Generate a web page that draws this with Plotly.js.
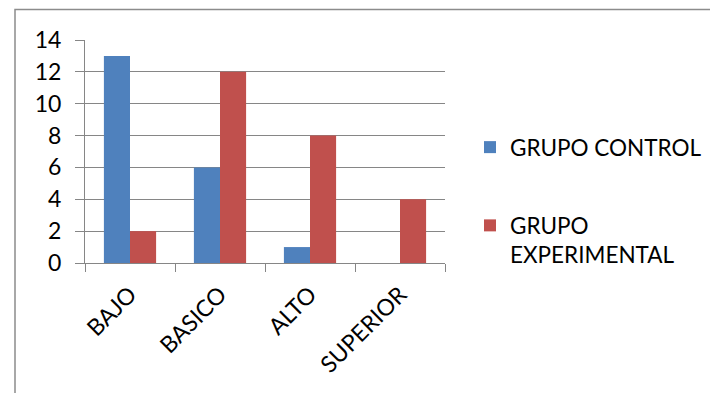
<!DOCTYPE html>
<html>
<head>
<meta charset="utf-8">
<script src="https://cdn.plot.ly/plotly-3.0.1.min.js"></script>
<style>
  html, body { margin: 0; padding: 0; background: #fff; }
  #chart { width: 710px; height: 393px; }
</style>
</head>
<body>
<div id="chart"></div>
<script>
// Performance levels and counts per group
const categories = ['BAJO', 'BASICO', 'ALTO', 'SUPERIOR'];
const grupoControl = [13, 6, 1, 0];
const grupoExperimental = [2, 12, 8, 4];
const seriesNames = ['GRUPO CONTROL', 'GRUPO<br>EXPERIMENTAL'];
const yTicks = [0, 2, 4, 6, 8, 10, 12, 14];

const FONT = 'Lato, "Open Sans", sans-serif';
const GRID = '#868686';

const traces = [
  {
    type: 'bar', x: categories, y: grupoControl, name: seriesNames[0],
    marker: { color: '#4F81BD' }, legendgroup: 'a'
  },
  {
    type: 'bar', x: categories, y: grupoExperimental, name: seriesNames[1],
    marker: { color: '#C0504D' }, legendgroup: 'b'
  }
];

const layout = {
  width: 710, height: 393,
  margin: { l: 85, r: 265, t: 40, b: 130 },
  paper_bgcolor: '#fff', plot_bgcolor: '#fff',
  font: { family: FONT, size: 22, color: '#000' },
  barmode: 'group', bargap: 0.42, bargroupgap: 0,
  showlegend: true,
  legend: {
    xref: 'container', yref: 'container',
    x: 470 / 710, xanchor: 'left', y: 1 - 126 / 393, yanchor: 'top',
    traceorder: 'grouped', tracegroupgap: 46, valign: 'top',
    font: { family: FONT, size: 22.5 }, itemwidth: 30
  },
  xaxis: {
    type: 'category', showline: true, linecolor: GRID, linewidth: 1,
    ticks: 'outside', tickson: 'boundaries', ticklen: 8, tickcolor: GRID,
    tickangle: -45, showgrid: false, zeroline: false,
    ticklabelstandoff: 8,
    tickfont: { family: FONT, size: 23 }
  },
  yaxis: {
    range: [0, 14], tickvals: yTicks, showgrid: true, gridcolor: GRID, gridwidth: 1,
    showline: true, linecolor: GRID, linewidth: 1,
    ticks: 'outside', ticklen: 9, tickcolor: GRID, zeroline: false,
    ticklabelstandoff: 9,
    tickfont: { family: FONT, size: 23 }
  },
  shapes: [
    // chart frame, open at the right and bottom edges of the page
    {
      type: 'rect', xref: 'paper', yref: 'paper',
      x0: (15 - 85) / 360, x1: 2, y0: -1, y1: (263 - 9.5) / 223,
      line: { color: '#8c8c8c', width: 1.5 }, fillcolor: 'rgba(0,0,0,0)', layer: 'below'
    }
  ]
};

Plotly.newPlot('chart', traces, layout, { displayModeBar: false, staticPlot: true });
</script>
</body>
</html>
